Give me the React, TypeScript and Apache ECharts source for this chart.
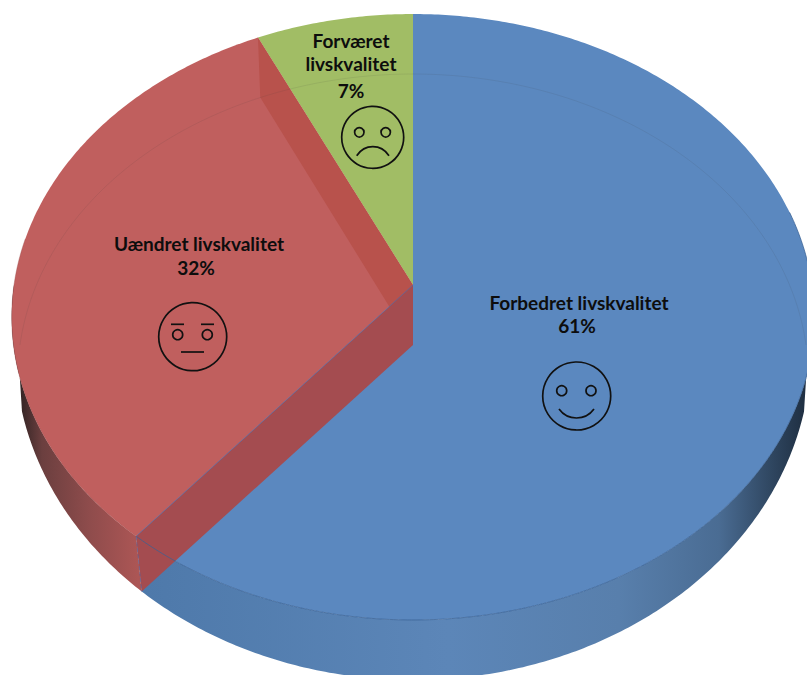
import React, { useEffect, useRef } from "react";
import * as echarts from "echarts";

const categories = ["Forbedret livskvalitet", "Uændret livskvalitet", "Forværet\nlivskvalitet"];
const values = [61, 32, 7];

const topColors = ["#5B88BF", "#C05F5E", "#A1BD65"];
const FONT = "Lato, Carlito, sans-serif";

// Perspective projection of the pie's unit disc onto the picture
const CX = 413, TOP_Y = 285, BOTTOM_Y = 345, AX = 399, BY = 299.6, K = 0.1056;
const total = values.reduce((a, b) => a + b, 0);
const startShare = (i: number) => values.slice(0, i).reduce((a, b) => a + b, 0) / total;
const angleAt = (share: number) => share * Math.PI * 2;

function project(theta: number, level: 0 | 1): number[] {
  const X = Math.sin(theta), Y = Math.cos(theta);
  const w = 1 + K * Y;
  const sx = level === 0 ? 1 : 0.985;
  return [CX + (sx * AX * X) / w, (level === 0 ? TOP_Y : BOTTOM_Y) - (BY * Y) / w];
}
// Lower outline of the outer wall, which is what shows below the near rim
function wallFoot(theta: number): number[] {
  const dx = 0.98 * (project(theta, 0)[0] - CX);
  const t = Math.min(1, Math.abs(dx) / 398);
  return [CX + dx, 350 + 330 * Math.sqrt(1 - t * t)];
}
function arcPoints(a: number, b: number, level: 0 | 1): number[][] {
  const n = Math.max(2, Math.ceil(Math.abs(b - a) / 0.01));
  const out: number[][] = [];
  for (let i = 0; i <= n; i++) out.push(project(a + ((b - a) * i) / n, level));
  return out;
}
function footPoints(a: number, b: number): number[][] {
  const n = Math.max(2, Math.ceil(Math.abs(b - a) / 0.01));
  const out: number[][] = [];
  for (let i = 0; i <= n; i++) out.push(wallFoot(a + ((b - a) * i) / n));
  return out;
}

const wallFill = [
  {
    type: "linear", global: true, x: 143, y: 0, x2: 805, y2: 0,
    colorStops: [
      { offset: 0, color: "#4E79AA" },
      { offset: 0.46, color: "#5C86B8" },
      { offset: 0.72, color: "#587FAC" },
      { offset: 0.87, color: "#4A6C93" },
      { offset: 0.95, color: "#2F4660" },
      { offset: 1, color: "#1F2F42" },
    ],
  },
  {
    type: "linear", global: true, x: 18, y: 0, x2: 138, y2: 0,
    colorStops: [
      { offset: 0, color: "#2E2222" },
      { offset: 0.2, color: "#6B3F3F" },
      { offset: 0.6, color: "#8F4C4C" },
      { offset: 1, color: "#AC5655" },
    ],
  },
];

function wallItem(_: any, api: any) {
  const i = api.value(0);
  if (i > 1) return { type: "group", children: [] };
  // only the near half of the rim has a visible wall
  const a = Math.max(angleAt(startShare(i)), i === 0 ? Math.PI / 2 : 0);
  const b = Math.min(angleAt(startShare(i + 1)), i === 1 ? Math.PI * 1.5 : Math.PI * 2);
  const pts = [...arcPoints(a, b, 0), ...footPoints(a, b).reverse()];
  return { type: "polygon", shape: { points: pts }, style: { fill: wallFill[i] as any }, silent: true };
}

function topItem(_: any, api: any) {
  const i = api.value(0);
  const a = angleAt(startShare(i)), b = angleAt(startShare(i + 1));
  const pts = [[CX, TOP_Y], ...arcPoints(a, b, 0)];
  return { type: "polygon", shape: { points: pts }, style: { fill: topColors[i] }, silent: true };
}

const faceColors = ["#B8524C", "#A44C50"];
function faceItem(_: any, api: any) {
  // dataIndex 0: back wall between red and green, dataIndex 1: front wall between blue and red
  const i = api.value(0);
  if (i > 1) return { type: "group", children: [] };
  const th = angleAt(startShare(i === 0 ? 2 : 1));
  const lower = i === 0 ? project(th, 1) : wallFoot(th);
  const pts = [[CX, TOP_Y], project(th, 0), lower, [CX, BOTTOM_Y]];
  return { type: "polygon", shape: { points: pts }, style: { fill: faceColors[i] }, silent: true };
}

function rimItem(_: any, api: any) {
  const i = api.value(0);
  const th = angleAt(startShare(1));
  const line = (points: number[][], stroke: string, width = 1, dash?: number[]) => ({
    type: "polyline",
    shape: { points },
    style: { fill: "none", stroke, lineWidth: width, lineDash: dash },
    silent: true,
  });
  if (i === 0) {
    return {
      type: "group",
      children: [
        line(arcPoints(Math.PI * 0.42, th, 0), "rgba(58,98,148,0.75)", 1),
        line([[CX, TOP_Y], project(th, 0)], "rgba(90,105,160,0.75)", 1),
        line([project(th, 0), wallFoot(th)], "rgba(85,100,160,0.6)", 1, [4, 2]),
      ],
    };
  }
  if (i === 1) {
    return line(arcPoints(-Math.PI * 0.5, Math.PI * 0.5, 1), "rgba(60,60,60,0.10)", 1);
  }
  return line(arcPoints(th, Math.PI * 1.55, 0), "rgba(150,70,70,0.35)", 1);
}

const labelSpots = [
  { x: 579, y: 302.5, px: 577, py: 325.5 },
  { x: 199, y: 243.5, px: 196, py: 267.5 },
  { x: 351, y: 52, px: 351, py: 90 },
];

function labelItem(_: any, api: any) {
  const i = api.value(0);
  const s = labelSpots[i];
  const base = {
    fill: "#0D0D0D", font: `bold 19px ${FONT}`, align: "center", verticalAlign: "middle",
  };
  return {
    type: "group",
    children: [
      { type: "text", style: { ...base, x: s.x, y: s.y, text: categories[i], lineHeight: 23 }, silent: true },
      { type: "text", style: { ...base, x: s.px, y: s.py, text: `${values[i]}%` }, silent: true },
    ],
  };
}

const ink = { stroke: "#111111", lineWidth: 1.7, fill: "none" };
const circle = (cx: number, cy: number, r: number) => ({ type: "circle", shape: { cx, cy, r }, style: ink });
const seg = (x1: number, y1: number, x2: number, y2: number) => ({
  type: "line", shape: { x1, y1, x2, y2 }, style: ink,
});
const curve = (x1: number, y1: number, x2: number, y2: number, cy: number) => ({
  type: "bezierCurve",
  shape: { x1, y1, x2, y2, cpx1: x1 + (x2 - x1) * 0.25, cpy1: cy, cpx2: x1 + (x2 - x1) * 0.75, cpy2: cy },
  style: ink,
});

const faces = [
  circle(576.7, 396, 34), circle(561.7, 390.7, 5), circle(591, 390.7, 5), curve(559, 409, 594, 409, 421),
  circle(192.7, 336.7, 34), circle(177.7, 334.7, 5), circle(207.3, 334.7, 5),
  seg(171, 324.3, 184, 324.3), seg(201, 324.3, 214, 324.3), seg(181, 352, 204, 352),
  circle(372.7, 137.3, 31), circle(359.3, 132.3, 4.7), circle(385.7, 132.3, 4.7), curve(356.7, 155.7, 389, 155.7, 143.7),
];

export default function App() {
  const ref = useRef<HTMLDivElement>(null);
  useEffect(() => {
    const chart = echarts.init(ref.current!, undefined, { renderer: "svg" });
    const data = values.map((v, i) => [i, v]);
    const layer = (renderItem: any, z: number) => ({
      type: "custom", coordinateSystem: "none", data, renderItem, z, silent: true,
      encode: { value: [0, 1] }, clip: false,
    });
    chart.setOption({
      animation: false,
      backgroundColor: "#FFFFFF",
      series: [layer(wallItem, 1), layer(topItem, 2), layer(faceItem, 3), layer(rimItem, 4), layer(labelItem, 5)],
      graphic: faces.map((f) => ({ ...f, z: 100, silent: true })),
    });
    return () => chart.dispose();
  }, []);
  return <div ref={ref} style={{ position: "absolute", left: 0, top: 0, width: 807, height: 675 }} />;
}
